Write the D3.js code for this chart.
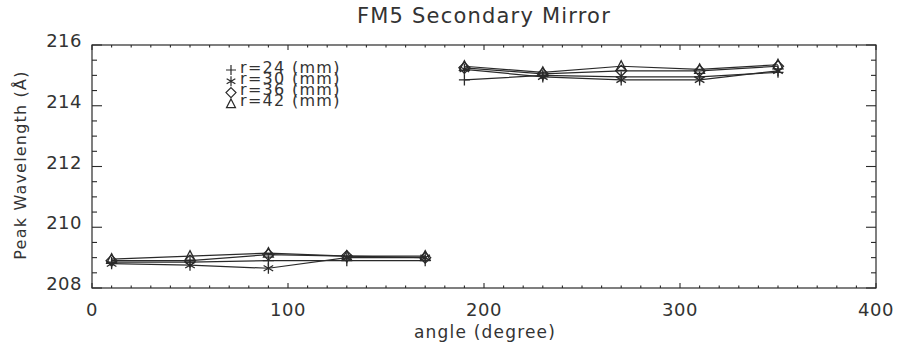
<!DOCTYPE html>
<html>
<head>
  <meta charset="UTF-8">
  <style>
    body { margin: 0; background-color: #ffffff; }
    svg text { font-family: "DejaVu Sans", sans-serif; fill: #333333; }
  </style>
</head>
<body>
<svg></svg>
<script src="https://d3js.org/d3.v7.min.js"></script>
<script>
let width = 897, height = 347;

// Data
let angles = [10, 50, 90, 130, 170, 190, 230, 270, 310, 350];
let r24 = [208.85, 208.85, 208.9, 208.9, 208.9, 214.85, 215.0, 214.95, 214.95, 215.1];
let r30 = [208.8, 208.75, 208.65, 209.0, 209.0, 215.2, 214.95, 214.85, 214.85, 215.15];
let r36 = [208.9, 208.9, 209.1, 209.05, 209.0, 215.25, 215.05, 215.15, 215.15, 215.3];
let r42 = [208.95, 209.05, 209.15, 209.05, 209.05, 215.3, 215.1, 215.3, 215.2, 215.35];
let seriesLabels = ["r=24  (mm)", "r=30  (mm)", "r=36  (mm)", "r=42  (mm)"];
let seriesSymbols = ["plus", "asterisk", "diamond", "triangle"];
let xTicks = [0, 100, 200, 300, 400];
let yTicks = [208, 210, 212, 214, 216];

let series = [r24, r30, r36, r42];

let svg = d3.select("svg")
  .attr("width", width)
  .attr("height", height);

let mLeft = 92, mRight = 876, mTop = 45, mBottom = 288;

let x = d3.scaleLinear().domain([0, 400]).range([mLeft, mRight]);
let y = d3.scaleLinear().domain([208, 216]).range([mBottom, mTop]);

let ink = "#2a2a2a";

// Frame
svg.append("rect")
  .attr("x", mLeft).attr("y", mTop)
  .attr("width", mRight - mLeft).attr("height", mBottom - mTop)
  .attr("fill", "none").attr("stroke", ink).attr("stroke-width", 1.2);

// Ticks (inward, on all four sides)
let ticks = svg.append("g").attr("stroke", ink).attr("stroke-width", 1.1);
d3.range(0, 401, 10).forEach(v => {
  let len = v % 100 === 0 ? 5 : 2.5;
  ticks.append("line").attr("x1", x(v)).attr("x2", x(v)).attr("y1", mBottom).attr("y2", mBottom - len);
  ticks.append("line").attr("x1", x(v)).attr("x2", x(v)).attr("y1", mTop).attr("y2", mTop + len);
});
d3.range(208, 216.01, 0.5).forEach(v => {
  let len = v % 2 === 0 ? 10 : 5;
  ticks.append("line").attr("x1", mLeft).attr("x2", mLeft + len).attr("y1", y(v)).attr("y2", y(v));
  ticks.append("line").attr("x1", mRight).attr("x2", mRight - len).attr("y1", y(v)).attr("y2", y(v));
});

// Tick labels
svg.append("g").selectAll("text")
  .data(xTicks).enter().append("text")
  .attr("x", d => x(d)).attr("y", 311)
  .attr("text-anchor", "middle").attr("dominant-baseline", "middle")
  .style("font-size", "18px").style("letter-spacing", "0.5px")
  .text(d => d);

svg.append("g").selectAll("text")
  .data(yTicks).enter().append("text")
  .attr("x", 82).attr("y", d => y(d) - 3)
  .attr("text-anchor", "end").attr("dominant-baseline", "middle")
  .style("font-size", "18px").style("letter-spacing", "0.5px")
  .text(d => d);

// Titles
svg.append("text")
  .attr("x", 484).attr("y", 17)
  .attr("text-anchor", "middle").attr("dominant-baseline", "middle")
  .style("font-size", "21px").style("letter-spacing", "1.2px")
  .text("FM5 Secondary Mirror");

svg.append("text")
  .attr("x", 485).attr("y", 333)
  .attr("text-anchor", "middle").attr("dominant-baseline", "middle")
  .style("font-size", "17px").style("letter-spacing", "1.2px")
  .text("angle (degree)");

svg.append("text")
  .attr("transform", "translate(21," + 165 + ") rotate(-90)")
  .attr("text-anchor", "middle").attr("dominant-baseline", "middle")
  .style("font-size", "16px").style("letter-spacing", "1.2px")
  .text("Peak Wavelength (Å)");

// Marker shapes
function symbolPath(type, r) {
  if (type === "plus") return `M${-r},0H${r}M0,${-r}V${r}`;
  if (type === "asterisk") {
    let a = r * 0.87, b = r * 0.5;
    return `M0,${-r}V${r}M${-a},${-b}L${a},${b}M${-a},${b}L${a},${-b}`;
  }
  if (type === "diamond") return `M0,${-r}L${r},0L0,${r}L${-r},0Z`;
  return `M0,${-r}L${r * 0.9},${r * 0.75}L${-r * 0.9},${r * 0.75}Z`;
}

// Lines: two separate runs per series (0-170 and 190-350)
let line = d3.line().x(d => x(d[0])).y(d => y(d[1]));

series.forEach((vals, i) => {
  let pts = angles.map((a, j) => [a, vals[j]]);
  let runs = [pts.filter(p => p[0] < 180), pts.filter(p => p[0] > 180)];
  runs.forEach(run => {
    svg.append("path")
      .attr("d", line(run))
      .attr("fill", "none").attr("stroke", ink).attr("stroke-width", 1.2);
  });
  svg.append("g").selectAll("path")
    .data(pts).enter().append("path")
    .attr("transform", d => `translate(${x(d[0])},${y(d[1])})`)
    .attr("d", symbolPath(seriesSymbols[i], 5.5))
    .attr("fill", "none").attr("stroke", ink).attr("stroke-width", 1.3);
});

// Legend (rows overlap slightly, as in the original)
let legend = svg.append("g").attr("transform", "translate(231, 70)");
seriesLabels.forEach((lab, i) => {
  legend.append("path")
    .attr("transform", `translate(0, ${i * 11.3})`)
    .attr("d", symbolPath(seriesSymbols[i], 5))
    .attr("fill", "none").attr("stroke", ink).attr("stroke-width", 1.2);
  legend.append("text")
    .attr("x", 9).attr("y", i * 11.3 - 2)
    .attr("dominant-baseline", "middle")
    .style("font-size", "16px").style("letter-spacing", "1.3px")
    .text(lab);
});
</script>
</body>
</html>
